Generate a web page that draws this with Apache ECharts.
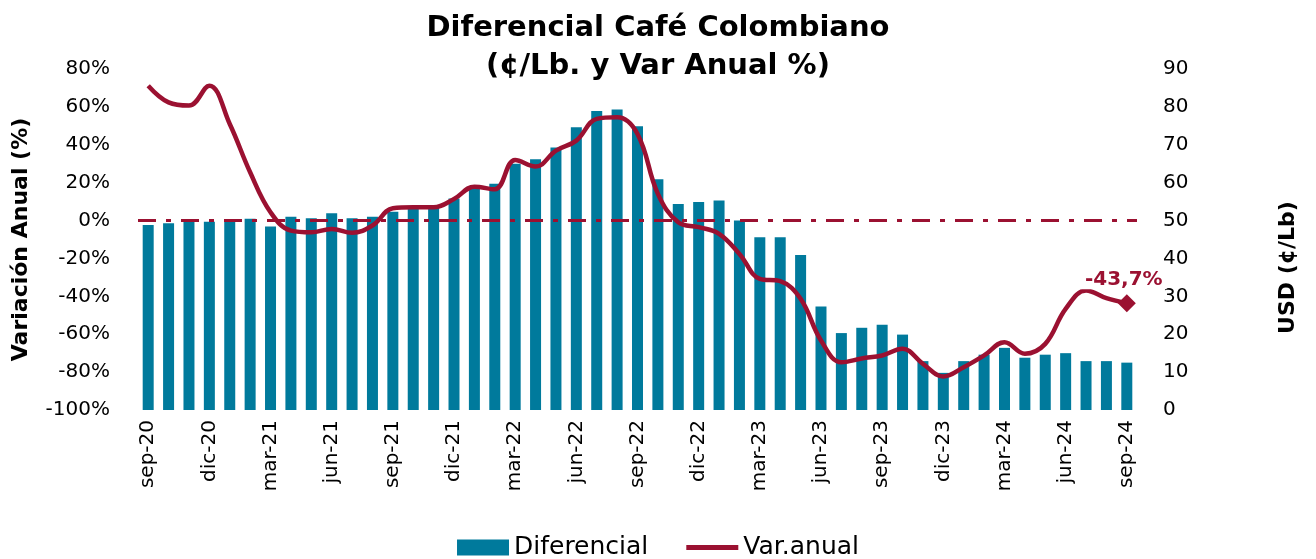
<!DOCTYPE html>
<html>
<head>
<meta charset="utf-8">
<script src="https://cdn.jsdelivr.net/npm/echarts@6/dist/echarts.min.js"></script>
<style>
  html, body { margin: 0; padding: 0; background: #fff; }
  #chart { width: 1316px; height: 559px; }
</style>
</head>
<body>
<div id="chart"></div>
<script>
// meses sep-20 .. sep-24
var meses = ['ene', 'feb', 'mar', 'abr', 'may', 'jun', 'jul', 'ago', 'sep', 'oct', 'nov', 'dic'];
var categorias = [];
for (var i = 0; i < 49; i++) {
    var m = (8 + i) % 12;
    var a = 20 + Math.floor((8 + i) / 12);
    categorias.push(meses[m] + '-' + a);
}

// Diferencial (USD ¢/Lb)
var diferencial = [
    48.8, 49.3, 49.7, 49.7, 49.7, 50.5, 48.4, 51.0, 50.6, 51.9, 50.6, 51.0,
    52.3, 53.2, 53.6, 55.8, 58.5, 59.7, 65.0, 66.2, 69.3, 74.6, 78.9, 79.3,
    74.9, 60.9, 54.4, 54.9, 55.3, 50.0, 45.6, 45.6, 40.9, 27.3, 20.3, 21.7,
    22.5, 19.9, 12.9, 9.8, 12.9, 14.6, 16.4, 13.8, 14.6, 15.0, 12.9, 12.9,
    12.5
];

// Var. anual (%)
var varAnual = [
    71.2, 62.4, 60.7, 71.2, 51.0, 25.5, 4.4, -5.3, -6.2, -4.4, -6.5, -2.6,
    6.5, 7.0, 7.0, 11.4, 17.9, 16.5, 32.0, 28.5, 36.9, 42.2, 53.7, 54.5,
    45.7, 14.1, -0.9, -3.5, -7.0, -17.6, -30.8, -32.0, -41.3, -63.3, -74.8, -72.8,
    -71.2, -67.7, -75.6, -82.3, -77.4, -71.2, -64.2, -70.3, -65.1, -46.6, -36.9, -41.0,
    -43.7
];

var izqTicks = { min: -100, max: 80, interval: 20 };
var derTicks = { min: 0, max: 90, interval: 10 };

var azul = '#007a9c';
var rojo = '#9b1131';
var fuente = 'DejaVu Sans';

var lineData = varAnual.map(function (v, idx) {
    if (idx === varAnual.length - 1) {
        return {
            value: v,
            symbol: 'diamond',
            symbolSize: 18,
            label: {
                show: true,
                position: 'top',
                distance: 5,
                offset: [-3, 0],
                formatter: function (p) { return p.value.toFixed(1).replace('.', ',') + '%'; },
                color: rojo,
                fontFamily: fuente,
                fontWeight: 'bold',
                fontSize: 20,
                backgroundColor: '#fff',
                padding: [0, 4]
            }
        };
    }
    return v;
});

var chart = echarts.init(document.getElementById('chart'));
chart.setOption({
    backgroundColor: '#fff',
    animation: false,
    title: {
        text: 'Diferencial Café Colombiano\n(¢/Lb. y Var Anual %)',
        left: 'center',
        top: 4,
        textStyle: {
            fontFamily: fuente,
            fontWeight: 'bold',
            fontSize: 29,
            lineHeight: 38,
            color: '#000'
        }
    },
    legend: {
        bottom: -6,
        left: 'center',
        itemGap: 38,
        itemWidth: 52,
        itemHeight: 16,
        textStyle: { fontFamily: fuente, fontSize: 25, color: '#000' },
        data: [
            { name: 'Diferencial', icon: 'rect' },
            { name: 'Var.anual', icon: 'path://M0,0 L100,0 L100,10 L0,10 Z' }
        ]
    },
    grid: { left: 138, right: 179, top: 69, bottom: 149 },
    xAxis: {
        type: 'category',
        data: categorias,
        axisLine: { show: false },
        axisTick: { show: false },
        axisLabel: {
            interval: 2,
            rotate: 90,
            margin: 10,
            fontFamily: fuente,
            fontSize: 20,
            color: '#000'
        }
    },
    yAxis: [
        {
            type: 'value',
            min: izqTicks.min, max: izqTicks.max, interval: izqTicks.interval,
            name: 'Variación Anual (%)',
            nameLocation: 'middle',
            nameGap: 106,
            nameTextStyle: { fontFamily: fuente, fontWeight: 'bold', fontSize: 22, color: '#000' },
            splitLine: { show: false },
            axisLine: { show: false },
            axisTick: { show: false },
            axisLabel: {
                formatter: '{value}%',
                margin: 28,
                fontFamily: fuente,
                fontSize: 20,
                color: '#000'
            }
        },
        {
            type: 'value',
            min: derTicks.min, max: derTicks.max, interval: derTicks.interval,
            name: 'USD (¢/Lb)',
            nameLocation: 'middle',
            nameGap: 140,
            nameRotate: 90,
            nameTextStyle: { fontFamily: fuente, fontWeight: 'bold', fontSize: 22, color: '#000', padding: [0, 56, 0, 0] },
            splitLine: { show: false },
            axisLine: { show: false },
            axisTick: { show: false },
            axisLabel: {
                margin: 26,
                fontFamily: fuente,
                fontSize: 20,
                color: '#000'
            }
        }
    ],
    series: [
        {
            name: 'Diferencial',
            type: 'bar',
            yAxisIndex: 1,
            data: diferencial,
            barWidth: 11,
            itemStyle: { color: azul }
        },
        {
            name: 'Var.anual',
            type: 'line',
            yAxisIndex: 0,
            data: lineData,
            smooth: 0.4,
            symbol: 'none',
            lineStyle: { color: rojo, width: 4.5 },
            itemStyle: { color: rojo },
            z: 5,
            markLine: {
                silent: true,
                symbol: 'none',
                label: { show: false },
                lineStyle: { color: rojo, width: 3, type: [18, 10, 5, 10] },
                data: [{ yAxis: 0 }]
            }
        }
    ]
});
</script>
</body>
</html>
